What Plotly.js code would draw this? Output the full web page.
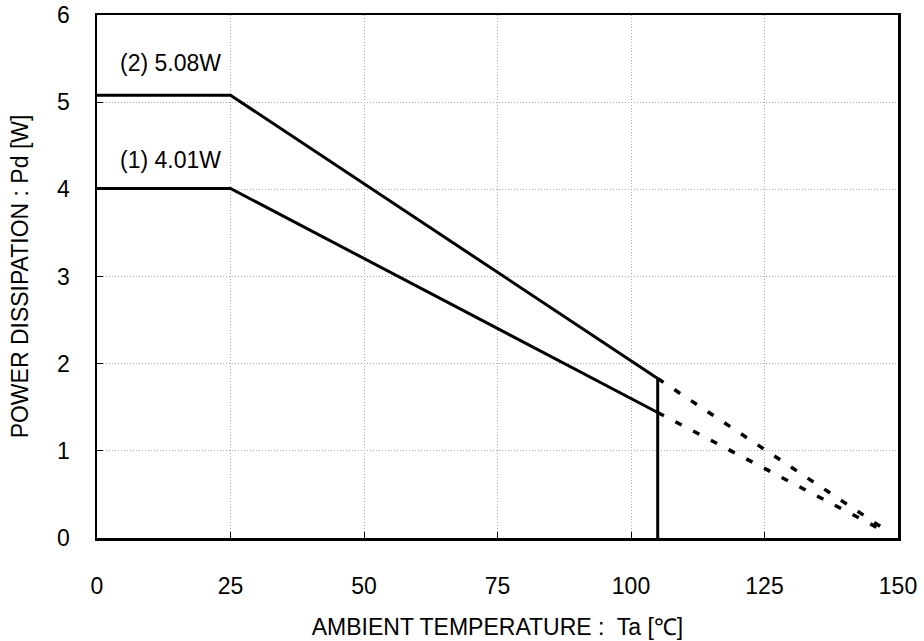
<!DOCTYPE html>
<html>
<head>
<meta charset="utf-8">
<script src="https://cdn.plot.ly/plotly-3.0.1.min.js"></script>
<style>html,body{margin:0;padding:0;background:#fff;}#chart{width:924px;height:641px;}</style>
</head>
<body>
<div id="chart"></div>
<script>
// Derating curves
const temps2 = [0, 25, 105];
const pd2 = [5.08, 5.08, 1.83];
const temps2Dash = [105, 148];
const pd2Dash = [1.83, 0.08];

const temps1 = [0, 25, 105];
const pd1 = [4.01, 4.01, 1.44];
const temps1Dash = [105, 148];
const pd1Dash = [1.44, 0.06];

const limitT = [105, 105];
const limitPd = [0, 1.83];

const labels = ["(2) 5.08W", "(1) 4.01W"];
const labelX = [3.9, 3.9];
const labelY = [5.45, 4.34];

const xTicks = [0, 25, 50, 75, 100, 125, 150];
const yTicks = [0, 1, 2, 3, 4, 5, 6];

const solid = {color: '#000', width: 3};
const dashed = {color: '#000', width: 3.5, dash: '7px,13px'};

const traces = [
  {x: temps2, y: pd2, mode: 'lines', line: solid},
  {x: temps2Dash, y: pd2Dash, mode: 'lines', line: dashed},
  {x: temps1, y: pd1, mode: 'lines', line: solid},
  {x: temps1Dash, y: pd1Dash, mode: 'lines', line: dashed},
  {x: limitT, y: limitPd, mode: 'lines', line: solid}
];

const fam = 'Liberation Sans, Arial, sans-serif';

const layout = {
  width: 924, height: 641,
  margin: {l: 97, r: 26, t: 15, b: 103},
  showlegend: false,
  paper_bgcolor: '#fff', plot_bgcolor: '#fff',
  font: {family: fam, size: 20, color: '#000'},
  xaxis: {
    range: [0, 150], tickvals: xTicks, ticktext: xTicks.map(String),
    showgrid: true, gridcolor: '#a8a8a8', griddash: '1px,2px', gridwidth: 1,
    zeroline: false, showline: true, linecolor: '#000', linewidth: 2.5, mirror: true,
    ticks: 'inside', ticklen: 6, tickcolor: '#000', tickwidth: 1,
    ticklabelstandoff: 26,
    tickfont: {family: fam, size: 23, color: '#000'},
    title: {text: 'AMBIENT TEMPERATURE :  Ta [℃]', font: {family: fam, size: 23, color: '#000'}, standoff: 21},
    fixedrange: true
  },
  yaxis: {
    range: [0, 6], tickvals: yTicks, ticktext: yTicks.map(String),
    showgrid: true, gridcolor: '#a8a8a8', griddash: '1px,2px', gridwidth: 1,
    zeroline: false, showline: true, linecolor: '#000', linewidth: 2.5, mirror: true,
    ticks: 'inside', ticklen: 6, tickcolor: '#000', tickwidth: 1,
    ticklabelstandoff: 20,
    tickfont: {family: fam, size: 23, color: '#000'},
    title: {text: 'POWER DISSIPATION : Pd [W]', font: {family: fam, size: 23, color: '#000'}, standoff: 22},
    fixedrange: true
  },
  annotations: labels.map((t, i) => ({
    x: labelX[i], y: labelY[i], xref: 'x', yref: 'y', text: t, showarrow: false,
    xanchor: 'left', yanchor: 'middle', font: {family: fam, size: 23, color: '#000'}
  }))
};

Plotly.newPlot('chart', traces, layout, {staticPlot: true, displayModeBar: false});
</script>
</body>
</html>
